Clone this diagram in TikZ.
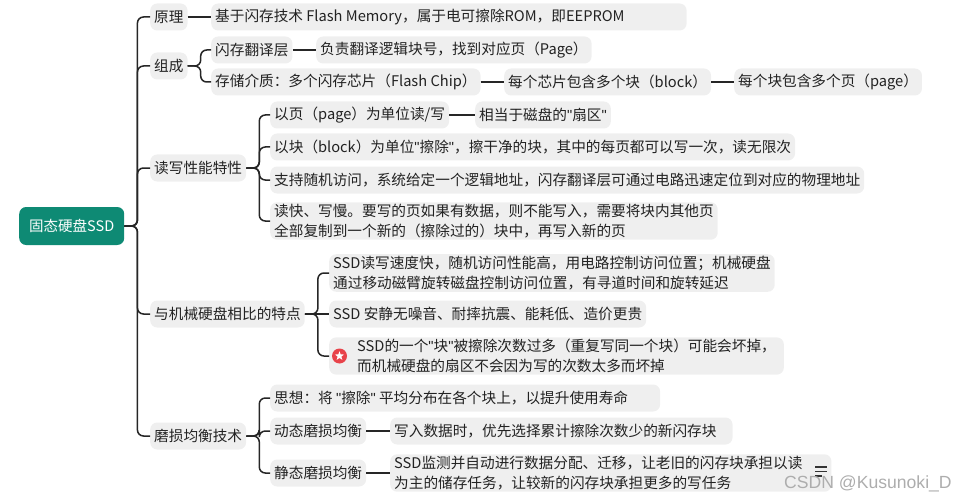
\documentclass[tikz,border=0pt]{standalone}
\usepackage{fontspec}
\setmainfont{Noto Sans CJK SC}
\newfontfamily\quotefont{Liberation Sans}
\usetikzlibrary{shapes.geometric}
\definecolor{rootgreen}{HTML}{0E8A74}
\definecolor{boxgray}{HTML}{EFEFEF}
\definecolor{textgray}{HTML}{222222}
\definecolor{starred}{HTML}{E8434A}
\newcommand{\dq}{{\quotefont"}}
\tikzset{
	topic/.style={anchor=west, fill=boxgray, text=textgray, rounded corners=7pt, minimum height=27pt, inner xsep=4pt, inner ysep=2pt, align=left, font=\fontsize{14.65}{19.5}\selectfont},
	root/.style={topic, fill=rootgreen, text=white, minimum height=38pt, inner xsep=10pt, font=\fontsize{14.5}{18}\selectfont},
	link/.style={line width=1.5pt, black!85},
	elbow/.style={link, rounded corners=6pt, to path={-- ([xshift=13pt]\tikztostart.east) |- (\tikztotarget.west)}},
	listline/.style={line width=1.2pt, black!80},
}
\begin{document}
\begin{tikzpicture}[x=1pt, y=-1pt]
	\useasboundingbox (0,0) rectangle (953,500);
	\node [root] (ssd) at (19,226) {固态硬盘SSD};

	\node [topic] (yuanli) at (150,17) {原理};
	\node [topic] (yuanlia) at (211,17) {基于闪存技术 Flash Memory，属于电可擦除ROM，即EEPROM\hspace*{58pt}};

	\node [topic] (zucheng) at (150,66) {组成};
	\node [topic] (fanyi) at (211,50) {闪存翻译层};
	\node [topic] (fanyia) at (316,50) {负责翻译逻辑块号，找到对应页（Page）};
	\node [topic] (jiezhi) at (211,82) {存储介质：多个闪存芯片（Flash Chip）};
	\node [topic] (xinpian) at (504,82) {每个芯片包含多个块（block）};
	\node [topic] (kuai) at (734,82) {每个块包含多个页（page）};

	\node [topic] (duxie) at (150,168) {读写性能特性};
	\node [topic] (yepage) at (270,115) {以页（page）为单位读/写};
	\node [topic] (shanqu) at (475,115) {相当于磁盘的\dq{}扇区\dq};
	\node [topic] (block) at (270,147) {以块（block）为单位\dq{}擦除\dq，擦干净的块，其中的每页都可以写一次，读无限次};
	\node [topic] (suiji) at (270,180) {支持随机访问，系统给定一个逻辑地址，闪存翻译层可通过电路迅速定位到对应的物理地址};
	\node [topic] (dukuai) at (270,221) {读快、写慢。要写的页如果有数据，则不能写入，需要将块内其他页\\全部复制到一个新的（擦除过的）块中，再写入新的页};

	\node [topic] (bijiao) at (150,314) {与机械硬盘相比的特点};
	\node [topic] (sudu) at (329,273) {SSD读写速度快，随机访问性能高，用电路控制访问位置；机械硬盘\\通过移动磁臂旋转磁盘控制访问位置，有寻道时间和旋转延迟};
	\node [topic] (anjing) at (329,314) {SSD 安静无噪音、耐摔抗震、能耗低、造价更贵};
	\node [topic] (huai) at (329,356) {\hspace*{24pt}SSD的一个\dq{}块\dq{}被擦除次数过多（重复写同一个块）可能会坏掉，\hspace*{4pt}\\\hspace*{24pt}而机械硬盘的扇区不会因为写的次数太多而坏掉};
	\node [circle, fill=starred, minimum size=15pt, inner sep=0pt] (badge) at (339.5,356) {};
	\node [star, star points=5, star point ratio=2.4, fill=white, minimum size=9.5pt, inner sep=0pt] (badgestar) at (badge) {};

	\node [topic] (mosun) at (150,436) {磨损均衡技术};
	\node [topic] (sixiang) at (270,398) {思想：将 \dq{}擦除\dq{} 平均分布在各个块上，以提升使用寿命\hspace*{28pt}};
	\node [topic] (dongtai) at (270,431) {动态磨损均衡};
	\node [topic] (dongtaia) at (390,431) {写入数据时，优先选择累计擦除次数少的新闪存块\hspace*{12pt}};
	\node [topic] (jingtai) at (270,473) {静态磨损均衡};
	\node [topic] (jingtaia) at (390,473) {SSD监测并自动进行数据分配、迁移，让老旧的闪存块承担以读\hspace*{25pt}\\为主的储存任务，让较新的闪存块承担更多的写任务};

	\draw [elbow] (ssd) to (yuanli);
	\draw [elbow] (ssd) to (zucheng);
	\draw [elbow] (ssd) to (duxie);
	\draw [elbow] (ssd) to (bijiao);
	\draw [elbow] (ssd) to (mosun);

	\draw [link] (yuanli) -- (yuanlia);
	\draw [elbow] (zucheng) to (fanyi);
	\draw [elbow] (zucheng) to (jiezhi);
	\draw [link] (fanyi) -- (fanyia);
	\draw [link] (jiezhi) -- (xinpian);
	\draw [link] (xinpian) -- (kuai);

	\draw [elbow] (duxie) to (yepage);
	\draw [elbow] (duxie) to (block);
	\draw [elbow] (duxie) to (suiji);
	\draw [elbow] (duxie) to (dukuai);
	\draw [link] (yepage) -- (shanqu);

	\draw [elbow] (bijiao) to (sudu);
	\draw [link] (bijiao) -- (anjing);
	\draw [elbow] (bijiao) to (huai);

	\draw [elbow] (mosun) to (sixiang);
	\draw [elbow] (mosun) to (dongtai);
	\draw [elbow] (mosun) to (jingtai);
	\draw [link] (dongtai) -- (dongtaia);
	\draw [link] (jingtai) -- (jingtaia);

	\draw [listline] (815,467) -- (827,467);
	\draw [listline] (815,471.5) -- (827,471.5);
	\draw [listline] (815,476) -- (822,476);

	\node [anchor=west, inner sep=0pt, text=black!32, font=\quotefont\fontsize{17.6}{20}\selectfont] (csdn) at (784,484) {CSDN @Kusunoki\_D};
\end{tikzpicture}
\end{document}
